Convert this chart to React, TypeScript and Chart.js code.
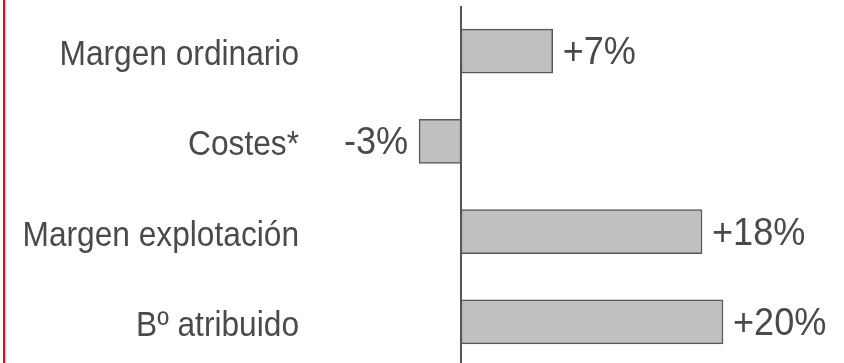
import React, { useEffect, useRef } from "react";
import { Chart, registerables } from "chart.js";

Chart.register(...registerables);

const categories = ["Margen ordinario", "Costes*", "Margen explotación", "Bº atribuido"];
const values = [7.0, -3.2, 18.4, 20.0];
const valueLabels = ["+7%", "-3%", "+18%", "+20%"];

const FONT = '"Liberation Sans", Arial, sans-serif';
const TEXT_COLOR = "#4a4a4a";

const overlay = {
  id: "overlay",
  afterDraw(chart: any) {
    const ctx = chart.ctx;
    const xs = chart.scales.x;
    const ys = chart.scales.y;
    const zero = xs.getPixelForValue(0);
    ctx.save();
    // red frame line at left
    ctx.fillStyle = "#ff0000";
    ctx.fillRect(3, 0, 2, chart.height);
    // vertical axis line
    ctx.fillStyle = "#555555";
    ctx.fillRect(Math.round(zero) - 1, chart.chartArea.top, 2, chart.height);

    ctx.fillStyle = TEXT_COLOR;
    ctx.textBaseline = "alphabetic";
    categories.forEach((c, i) => {
      const y = ys.getPixelForValue(i);
      ctx.save();
      ctx.font = `35px ${FONT}`;
      ctx.textAlign = "right";
      ctx.translate(299, y + 14);
      ctx.scale(0.905, 1);
      ctx.fillText(c, 0, 0);
      ctx.restore();

      const v = values[i];
      const xe = xs.getPixelForValue(v);
      ctx.save();
      ctx.font = `38px ${FONT}`;
      if (v >= 0) {
        ctx.textAlign = "left";
        ctx.translate(xe + 10, y + 13);
      } else {
        ctx.textAlign = "right";
        ctx.translate(xe - 11, y + 13);
      }
      ctx.scale(0.95, 1);
      ctx.fillText(valueLabels[i], 0, 0);
      ctx.restore();
    });
    ctx.restore();
  },
};

export default function App() {
  const ref = useRef<HTMLCanvasElement | null>(null);
  useEffect(() => {
    if (!ref.current) return;
    const chart = new Chart(ref.current, {
      type: "bar",
      data: {
        labels: categories,
        datasets: [
          {
            data: values,
            backgroundColor: "#c0c0c0",
            borderColor: "#595959",
            borderWidth: 1.5,
            borderSkipped: false,
            barThickness: 44,
          },
        ],
      },
      options: {
        indexAxis: "y",
        responsive: false,
        animation: false,
        layout: { padding: { left: 330, right: 16.2, top: 6, bottom: 4 } },
        plugins: { legend: { display: false }, tooltip: { enabled: false } },
        scales: {
          x: { min: -10, max: 28, display: false },
          y: { display: false },
        },
      },
      plugins: [overlay],
    });
    return () => chart.destroy();
  }, []);
  return (
    <div style={{ position: "fixed", left: 0, top: 0, width: 844, height: 363, overflow: "hidden", background: "#fff" }}>
      <canvas ref={ref} width={844} height={371} style={{ display: "block" }} />
    </div>
  );
}
